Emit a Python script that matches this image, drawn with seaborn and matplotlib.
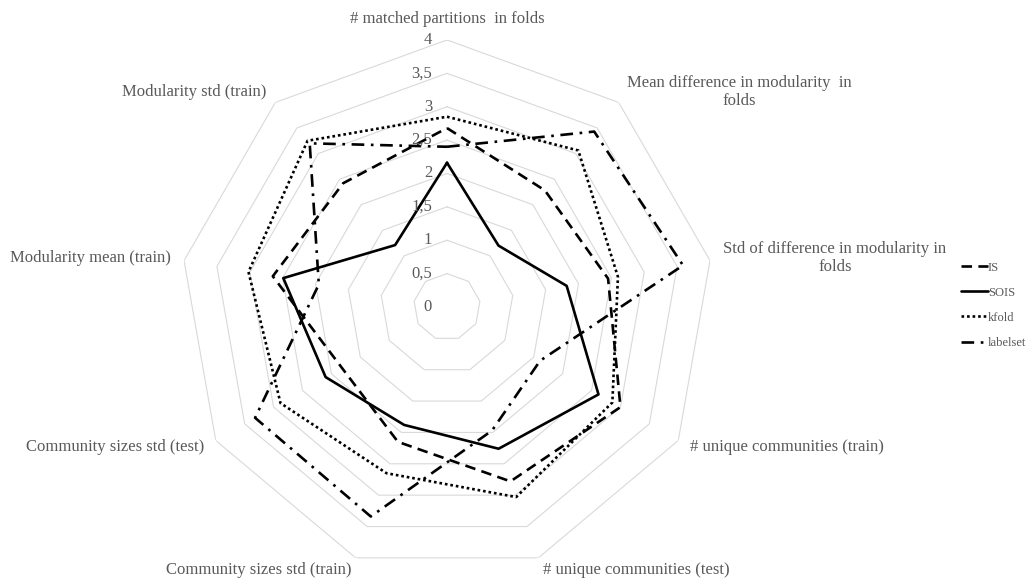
import numpy as np
import pandas as pd
import seaborn as sns
import matplotlib.pyplot as plt
from matplotlib.transforms import offset_copy

# Axis labels (clockwise from top)
categories = [
    "# matched partitions  in folds",
    "Mean difference in modularity  in\nfolds",
    "Std of difference in modularity in\nfolds",
    "# unique communities (train)",
    "# unique communities (test)",
    "Community sizes std (train)",
    "Community sizes std (test)",
    "Modularity mean (train)",
    "Modularity std (train)",
]

# Series values
is_vals = [2.68, 2.28, 2.45, 3.00, 2.78, 2.15, 1.82, 2.65, 2.42]
sois_vals = [2.16, 1.20, 1.82, 2.62, 2.26, 1.88, 2.10, 2.49, 1.21]
kfold_vals = [2.85, 3.06, 2.60, 2.86, 3.03, 2.65, 2.88, 3.02, 3.25]
labelset_vals = [2.40, 3.43, 3.59, 1.61, 1.97, 3.34, 3.32, 1.95, 3.20]

series_names = ["IS", "SOIS", "kfold", "labelset"]
ring_ticks = [0, 0.5, 1, 1.5, 2, 2.5, 3, 3.5, 4]
tick_labels = ["0", "0,5", "1", "1,5", "2", "2,5", "3", "3,5", "4"]

sns.set_style("white")
plt.rcParams["font.family"] = ["Liberation Serif", "DejaVu Serif"]

n = len(categories)
angles = np.linspace(0, 2 * np.pi, n, endpoint=False)
theta_closed = np.append(angles, 2 * np.pi)

rows = []
for name, vals in zip(series_names, [is_vals, sois_vals, kfold_vals, labelset_vals]):
    closed = list(vals) + [vals[0]]
    for t, v in zip(theta_closed, closed):
        rows.append({"series": name, "theta": t, "value": v})
df = pd.DataFrame(rows)

fig = plt.figure(figsize=(10.35, 5.78), dpi=100)
ax = fig.add_axes([0.1739, 0.0069, 0.516, 0.924], projection="polar")
ax.set_theta_zero_location("N")
ax.set_theta_direction(-1)
ax.set_ylim(0, 4)
ax.grid(False)
ax.set_xticks([])
ax.set_yticks([])
ax.spines["polar"].set_visible(False)
ax.patch.set_alpha(0)

# polygon gridlines
grid_color = "#d9d9d9"
for r in ring_ticks[1:]:
    ax.plot(theta_closed, [r] * len(theta_closed), color=grid_color, lw=0.8, zorder=0)

dashes = {"IS": (4.0, 2.4), "SOIS": "", "kfold": (1, 1.1), "labelset": (4.8, 2.5, 1, 2.5)}
sns.lineplot(data=df, x="theta", y="value", hue="series", style="series",
             hue_order=series_names, style_order=series_names,
             palette=["black"] * 4, dashes=dashes, linewidth=1.9,
             sort=False, estimator=None, ax=ax)
ax.set_xlabel("")
ax.set_ylabel("")

handles, labels = ax.get_legend_handles_labels()
ax.get_legend().remove()
fig.legend(handles, labels, loc="upper left", bbox_to_anchor=(0.918, 0.567),
           frameon=False, fontsize=9, handlelength=2.1, handletextpad=0.0,
           labelspacing=1.05, labelcolor="#595959")

text_color = "#595959"
# value labels along the top axis
tick_tr = offset_copy(ax.transData, fig=fig, x=-15, y=0, units="dots")
for r, lab in zip(ring_ticks, tick_labels):
    ax.text(0, r, lab, transform=tick_tr, ha="right", va="center",
            fontsize=12, color=text_color)

# category labels
for ang, lab in zip(angles, categories):
    s = np.sin(ang)
    if s > 0.1:
        ha = "left"
    elif s < -0.1:
        ha = "right"
    else:
        ha = "center"
    va = "bottom" if np.cos(ang) > 0.9 else "center"
    ax.text(ang, 4.2, lab, ha=ha, va=va, fontsize=12, color=text_color,
            multialignment="center", clip_on=False)

fig.savefig("out.png", dpi=100)
